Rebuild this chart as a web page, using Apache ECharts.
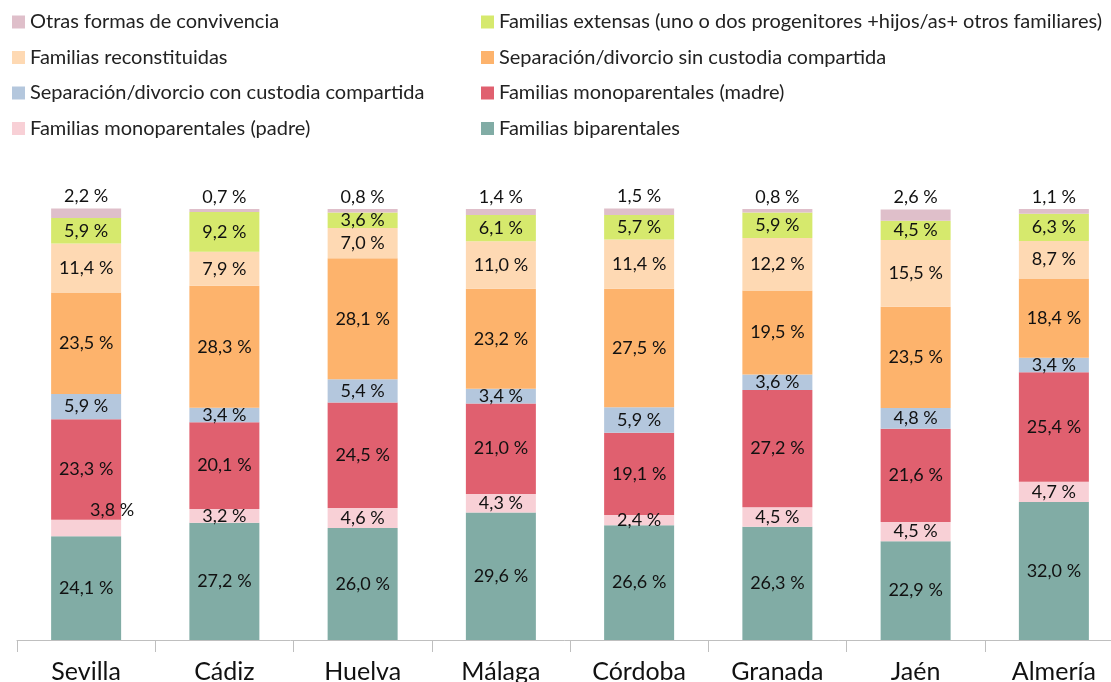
<!DOCTYPE html>
<html>
<head>
<meta charset="utf-8">
<title>Tipos de familia por provincia</title>
<script src="https://cdn.jsdelivr.net/npm/echarts@6/dist/echarts.min.js"></script>
<style>
    html, body { margin: 0; padding: 0; background: #fff; }
    #chart { width: 1111px; height: 682px; }
</style>
</head>
<body>
<div id="chart"></div>
<script>
    // datos por provincia (porcentajes)
    var provincias = ['Sevilla', 'Cádiz', 'Huelva', 'Málaga', 'Córdoba', 'Granada', 'Jaén', 'Almería'];

    var biparentales   = [24.1, 27.2, 26.0, 29.6, 26.6, 26.3, 22.9, 32.0];
    var monoPadre      = [3.8, 3.2, 4.6, 4.3, 2.4, 4.5, 4.5, 4.7];
    var monoMadre      = [23.3, 20.1, 24.5, 21.0, 19.1, 27.2, 21.6, 25.4];
    var conCustodia    = [5.9, 3.4, 5.4, 3.4, 5.9, 3.6, 4.8, 3.4];
    var sinCustodia    = [23.5, 28.3, 28.1, 23.2, 27.5, 19.5, 23.5, 18.4];
    var reconstituidas = [11.4, 7.9, 7.0, 11.0, 11.4, 12.2, 15.5, 8.7];
    var extensas       = [5.9, 9.2, 3.6, 6.1, 5.7, 5.9, 4.5, 6.3];
    var otras          = [2.2, 0.7, 0.8, 1.4, 1.5, 0.8, 2.6, 1.1];

    var nombres = {
        bip: 'Familias biparentales',
        padre: 'Familias monoparentales (padre)',
        madre: 'Familias monoparentales (madre)',
        con: 'Separación/divorcio con custodia compartida',
        sin: 'Separación/divorcio sin custodia compartida',
        rec: 'Familias reconstituidas',
        ext: 'Familias extensas (uno o dos progenitores +hijos/as+ otros familiares)',
        otr: 'Otras formas de convivencia'
    };

    var fuente = 'Lato, "Open Sans", sans-serif';

    //formato 23,5 %
    function pct(p) {
        return p.value.toFixed(1).replace('.', ',') + ' %';
    }

    function serie(nombre, datos, color, pos) {
        return {
            name: nombre,
            type: 'bar',
            stack: 'total',
            barWidth: 70,
            clip: false,
            data: datos,
            itemStyle: { color: color },
            label: {
                show: true,
                position: pos || 'inside',
                distance: 3,
                color: '#111',
                fontFamily: fuente,
                fontSize: 18,
                formatter: pct
            }
        };
    }

    // Sevilla (padre) tiene la etiqueta desplazada
    var padreData = monoPadre.map(function (v, i) {
        if (i == 0) {
            return { value: v, label: { offset: [26, -18] } };
        }
        return v;
    });

    var leyenda = function (izq, lista) {
        return {
            orient: 'vertical',
            left: izq,
            top: 7,
            itemWidth: 13,
            itemHeight: 13,
            itemGap: 15.5,
            icon: 'rect',
            selectedMode: false,
            textStyle: { fontSize: 20, color: '#222', fontFamily: fuente },
            data: lista
        };
    };

    var chart = echarts.init(document.getElementById('chart'));
    var option = {
        animation: false,
        textStyle: { fontFamily: fuente },
        legend: [
            leyenda(7, [nombres.otr, nombres.rec, nombres.con, nombres.padre]),
            leyenda(476, [nombres.ext, nombres.sin, nombres.madre, nombres.bip])
        ],
        grid: {
            left: 17,
            width: 1106,
            top: 209,
            bottom: 42,
            containLabel: false,
            outerBoundsMode: 'none'
        },
        xAxis: {
            type: 'category',
            data: provincias,
            axisLine: { lineStyle: { color: '#bfbfbf', width: 1 } },
            axisTick: { show: true, length: 12, lineStyle: { color: '#bfbfbf' } },
            axisLabel: { color: '#111', fontSize: 25, margin: 19, fontFamily: fuente }
        },
        yAxis: {
            type: 'value',
            min: 0,
            max: 100,
            show: false,
            splitLine: { show: false }
        },
        series: [
            serie(nombres.bip, biparentales, '#81aca5'),
            serie(nombres.padre, padreData, '#f8d0d6'),
            serie(nombres.madre, monoMadre, '#e0606f'),
            serie(nombres.con, conCustodia, '#b4c7dd'),
            serie(nombres.sin, sinCustodia, '#fdb36c'),
            serie(nombres.rec, reconstituidas, '#fed9b3'),
            serie(nombres.ext, extensas, '#d6e96d'),
            serie(nombres.otr, otras, '#dfbfca', 'top')
        ]
    };
    chart.setOption(option);
</script>
</body>
</html>
